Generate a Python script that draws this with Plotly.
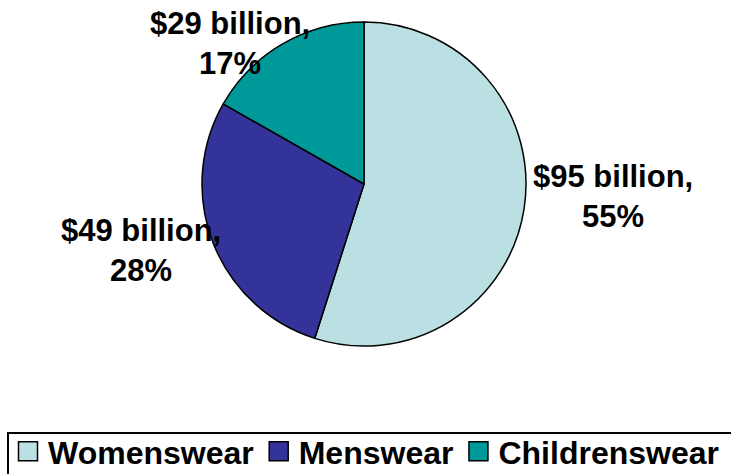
import plotly.graph_objects as go

# Apparel market by segment
segments = ["Womenswear", "Menswear", "Childrenswear"]
sales_billion = [95, 49, 29]
shares_pct = [55, 28, 17]
colors = ["#BBE0E3", "#333399", "#009999"]

W, H = 731, 474
FONT = "Arial, Liberation Sans, sans-serif"

# pie placement in pixels: centre and radius
cx, cy, r = 364, 184, 162

fig = go.Figure(
    go.Pie(
        labels=segments,
        values=sales_billion,
        marker=dict(colors=colors, line=dict(color="black", width=1.5)),
        sort=False,
        direction="clockwise",
        rotation=0,
        textinfo="none",
        hoverinfo="label+value+percent",
        domain=dict(
            x=[(cx - r) / W, (cx + r) / W],
            y=[(H - (cy + r)) / H, (H - (cy - r)) / H],
        ),
    )
)

# data labels, "$N billion, P%"
label_pos = [(613, 196), (141, 250), (230, 43)]
annotations = []
for v, p, (px, py) in zip(sales_billion, shares_pct, label_pos):
    annotations.append(
        dict(
            text=f"${v} billion,<br>{p}%",
            x=px / W,
            y=1 - py / H,
            xref="paper",
            yref="paper",
            xanchor="center",
            yanchor="middle",
            showarrow=False,
            font=dict(family=FONT, size=31, color="black", weight="bold"),
            align="center",
        )
    )

# frame around the legend row, running past the right and bottom edges
legend_frame = dict(
    type="rect",
    xref="paper",
    yref="paper",
    x0=8 / W,
    x1=1.02,
    y0=-0.05,
    y1=1 - 433 / H,
    line=dict(color="black", width=2),
    fillcolor="rgba(0,0,0,0)",
    layer="above",
)

fig.update_layout(
    width=W,
    height=H,
    margin=dict(l=0, r=0, t=0, b=0, autoexpand=False),
    paper_bgcolor="white",
    plot_bgcolor="white",
    annotations=annotations,
    shapes=[legend_frame],
    showlegend=True,
    legend=dict(
        orientation="h",
        x=8 / W,
        y=1 - 424 / H,
        xanchor="left",
        yanchor="top",
        font=dict(family=FONT, size=32, color="black", weight="bold"),
        borderwidth=0,
        bgcolor="rgba(0,0,0,0)",
        itemwidth=30,
        traceorder="normal",
    ),
)

# larger legend swatches
post = """
document.querySelectorAll('path.legendpie').forEach(function (p) {
  p.setAttribute('d', 'M9.5,9.5H-9.5V-9.5H9.5Z');
});
"""

fig.write_html("out.html", post_script=post)
